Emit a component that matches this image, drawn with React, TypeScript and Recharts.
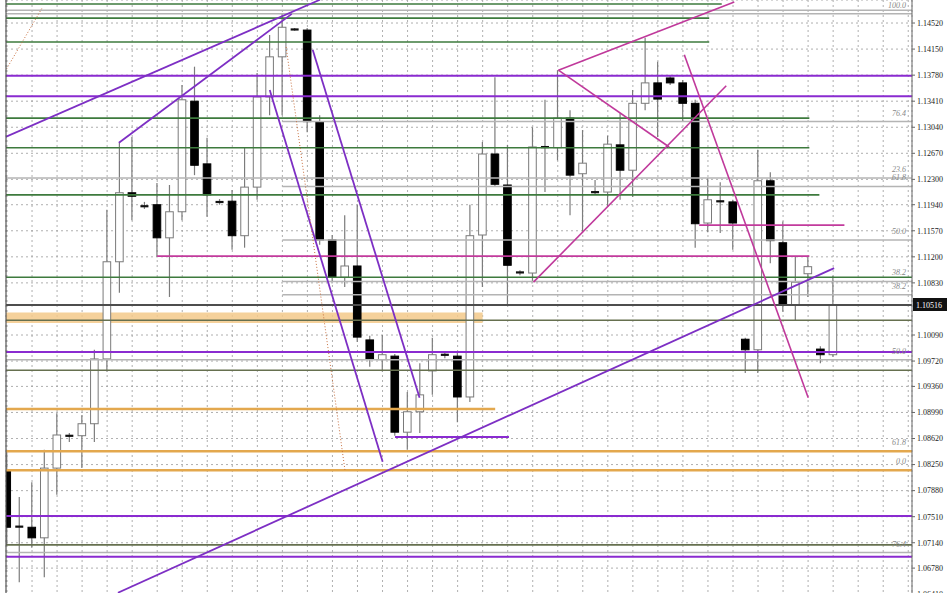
import React from 'react';
import { ComposedChart, Bar, XAxis, YAxis, CartesianGrid, ReferenceLine, ReferenceArea } from 'recharts';

// candles, oldest first
const opens = [1.0817, 1.0736, 1.0736, 1.0721, 1.0820, 1.0864, 1.0866, 1.0883, 1.0975, 1.1113, 1.1211, 1.1192, 1.1194, 1.1147, 1.1184, 1.1341, 1.1252, 1.1198, 1.1199, 1.1150, 1.1219, 1.1347, 1.1404, 1.1443, 1.1442, 1.1312, 1.1144, 1.1091, 1.1107, 1.1002, 1.0974, 1.0979, 1.0871, 1.0900, 1.0958, 1.0981, 1.0979, 1.0921, 1.1151, 1.1266, 1.1222, 1.1098, 1.1097, 1.1276, 1.1275, 1.1317, 1.1238, 1.1212, 1.1212, 1.1279, 1.1243, 1.1338, 1.1367, 1.1374, 1.1367, 1.1338, 1.1168, 1.1199, 1.1198, 1.1003, 1.0988, 1.1228, 1.1140, 1.1052, 1.1096, 1.0989, 1.0981];
const highs = [1.0846, 1.0779, 1.0800, 1.0846, 1.0898, 1.0870, 1.0895, 1.0988, 1.1187, 1.1283, 1.1290, 1.1198, 1.1225, 1.1222, 1.1364, 1.1390, 1.1289, 1.1202, 1.1215, 1.1276, 1.1381, 1.1435, 1.1466, 1.1445, 1.1445, 1.1321, 1.1151, 1.1179, 1.1194, 1.1008, 1.1009, 1.0982, 1.0928, 1.0969, 1.1005, 1.0985, 1.0985, 1.1194, 1.1283, 1.1375, 1.1279, 1.1101, 1.1304, 1.1343, 1.1385, 1.1328, 1.1300, 1.1229, 1.1292, 1.1324, 1.1357, 1.1431, 1.1397, 1.1377, 1.1371, 1.1343, 1.1232, 1.1226, 1.1201, 1.1005, 1.1272, 1.1240, 1.1170, 1.1120, 1.1120, 1.0993, 1.1093];
const lows = [1.0711, 1.0658, 1.0707, 1.0665, 1.0782, 1.0857, 1.0820, 1.0857, 1.0957, 1.1069, 1.1172, 1.1188, 1.1120, 1.1063, 1.1172, 1.1236, 1.1177, 1.1194, 1.1130, 1.1133, 1.1201, 1.1321, 1.1321, 1.1441, 1.1297, 1.1137, 1.1084, 1.1077, 1.0999, 1.0964, 1.0957, 1.0866, 1.0846, 1.0870, 1.0924, 1.0976, 1.0885, 1.0914, 1.1077, 1.1219, 1.1052, 1.1094, 1.1084, 1.1212, 1.1257, 1.1179, 1.1154, 1.1208, 1.1191, 1.1201, 1.1205, 1.1328, 1.1290, 1.1364, 1.1312, 1.1133, 1.1155, 1.1154, 1.1130, 1.0955, 1.0955, 1.1111, 1.1042, 1.1030, 1.1063, 1.0969, 1.0978];
const closes = [1.0736, 1.0737, 1.0721, 1.0820, 1.0867, 1.0866, 1.0883, 1.0975, 1.1113, 1.1211, 1.1206, 1.1192, 1.1147, 1.1184, 1.1343, 1.1250, 1.1208, 1.1198, 1.1150, 1.1219, 1.1347, 1.1404, 1.1446, 1.1442, 1.1312, 1.1144, 1.1091, 1.1107, 1.1006, 1.0975, 1.0981, 1.0871, 1.0900, 1.0924, 1.0981, 1.0980, 1.0921, 1.1150, 1.1266, 1.1223, 1.1108, 1.1097, 1.1276, 1.1275, 1.1317, 1.1236, 1.1253, 1.1211, 1.1280, 1.1243, 1.1338, 1.1367, 1.1344, 1.1367, 1.1338, 1.1167, 1.1201, 1.1198, 1.1168, 1.0988, 1.1228, 1.1143, 1.1052, 1.1084, 1.1106, 1.0981, 1.10516];

const priceTicks = [1.1452, 1.1415, 1.1378, 1.1341, 1.1304, 1.1267, 1.123, 1.1194, 1.1157, 1.112, 1.1083, 1.1009, 1.0972, 1.0936, 1.0899, 1.0862, 1.0825, 1.0788, 1.0751, 1.0714, 1.0678, 1.0641];
const lastPrice = 1.10516;

// horizontal levels: [price, fromBar, toBar, fibo label]; null = chart edge
const greenLevels = [[1.1479, null, 57.1], [1.1459, null, 56.1], [1.1425, null, 56.1], [1.1317, null, 64.1], [1.1275, null, 64.1], [1.1208, null, 64.9], [1.1091, null, null]];
const oliveLevels = [[1.1030, null, null], [1.0959, null, null], [1.0711, null, null]];
const grayLevels = [[1.1470, null, null, ''], [1.1465, null, null, '100.0'], [1.1312, 22, null, '76.4'], [1.1232, null, null, '23.6'], [1.1220, 22, null, '61.8'], [1.1144, 22, null, '50.0'], [1.1085, 22, null, '38.2'], [1.1066, 22, null, '38.2'], [1.0974, null, null, '50.0'], [1.0700, null, null, '76.4']];
const purpleLevels = [[1.1377, null, null], [1.1348, null, null], [1.0985, null, null], [1.0864, 31, 40.1], [1.0752, null, null], [1.0694, null, null]];
const magentaLevels = [[1.1165, 55.3, 66.9], [1.1121, 12, 64.1]];
const orangeLevels = [[1.0904, null, 39, ''], [1.0844, null, null, '61.8'], [1.0817, null, null, '0.0']];
const orangeZone = [1.1041, 1.1026, 38];

// trend lines: [[bar, price], [bar, price]]
const purpleTrends = [
  [[-0.16, 1.1290], [25.0, 1.1485]],
  [[8.94, 1.1282], [22.75, 1.1465]],
  [[20.99, 1.1357], [30.01, 1.0829]],
  [[24.42, 1.1414], [32.96, 1.0920]],
  [[8.86, 1.0643], [66.08, 1.1104]],
];
const magentaTrends = [
  [[44.05, 1.1385], [58.1, 1.1482]],
  [[44.05, 1.1385], [52.9, 1.1276]],
  [[42.06, 1.1084], [57.46, 1.1363]],
  [[54.11, 1.1407], [64.01, 1.0920]],
];
const dottedTrends = [
  [[-0.16, 1.1383], [2.79, 1.1473]],
  [[22.3, 1.1418], [27.0, 1.0817]],
];

const X_MIN = -0.08;
const X_MAX = 72.3;
const Y_MAX = 1.14847;
const Y_MIN = 1.06256;
const gridTicks = Array.from({ length: 37 }, (_, k) => k * 2);

const data = opens.map((o, i) => ({ i, o, h: highs[i], l: lows[i], c: closes[i], range: [lows[i], highs[i]] }));

const Candle = (props: any) => {
  const { x, y, width, height, payload } = props;
  const { o, h, l, c } = payload;
  const cx = x + width / 2;
  const k = height / (h - l);
  const py = (v: number) => y + (h - v) * k;
  const top = py(Math.max(o, c));
  const bot = py(Math.min(o, c));
  const up = c >= o;
  const doji = bot - top < 2;
  return (
    <g>
      <line x1={cx} x2={cx} y1={y} y2={y + height} stroke="#7c7c7c" strokeWidth={1.2} />
      {doji ? (
        <rect x={cx - 4} y={top - 1} width={8} height={2.2} fill="#111" />
      ) : (
        <rect x={cx - 3.8} y={top} width={7.6} height={bot - top} fill={up ? '#fff' : '#000'} stroke={up ? '#7a7a7a' : '#000'} strokeWidth={1} />
      )}
    </g>
  );
};

const PriceTag = (props: any) => {
  const { viewBox } = props;
  const x = viewBox.x + viewBox.width + 1;
  const y = viewBox.y;
  return (
    <g>
      <rect x={x} y={y - 7} width={34} height={13} fill="#111" />
      <text x={x + 3} y={y + 3} fill="#fff" fontSize={8} fontFamily="Liberation Serif">{lastPrice.toFixed(5)}</text>
    </g>
  );
};

const fiboLabel = (value: string) =>
  value ? { value, position: 'insideBottomRight' as const, fill: '#888', fontSize: 8, fontFamily: 'Liberation Serif', fontStyle: 'italic', offset: 6 } : undefined;

const seg = (p: number, from: number | null, to: number | null) => [
  { x: from ?? X_MIN, y: p },
  { x: to ?? X_MAX, y: p },
];

const App: React.FC = () => {
  return (
    <div style={{ position: 'absolute', left: 0, top: 0, width: 948, height: 593, overflow: 'hidden', background: '#fff' }}>
      <ComposedChart width={948} height={605} data={data} margin={{ top: 0, right: 0, bottom: 0, left: 6 }}>
        <CartesianGrid stroke="#9a9a9a" strokeDasharray="2 3" strokeWidth={0.8} />
        <XAxis type="number" dataKey="i" domain={[X_MIN, X_MAX]} ticks={gridTicks} allowDataOverflow hide />
        <YAxis
          orientation="right"
          width={36}
          domain={[Y_MIN, Y_MAX]}
          ticks={priceTicks}
          allowDataOverflow
          tickFormatter={(v: number) => v.toFixed(5)}
          tick={{ fontSize: 8, fill: '#222', fontFamily: 'Liberation Serif' }}
          tickSize={3}
          stroke="#666"
        />

        <ReferenceArea x1={X_MIN} x2={orangeZone[2]} y1={orangeZone[1]} y2={orangeZone[0]} fill="#f3c98a" fillOpacity={0.85} stroke="none" ifOverflow="hidden" />

        {grayLevels.map(([p, f, t, lab], k) => (
          <ReferenceLine key={`g${k}`} segment={seg(p as number, f as any, t as any)} stroke="#b4b4b4" strokeWidth={1.5} ifOverflow="hidden" label={fiboLabel(lab as string)} />
        ))}
        {greenLevels.map(([p, f, t], k) => (
          <ReferenceLine key={`gr${k}`} segment={seg(p as number, f as any, t as any)} stroke="#3d7a3d" strokeWidth={1.6} ifOverflow="hidden" />
        ))}
        {oliveLevels.map(([p, f, t], k) => (
          <ReferenceLine key={`ol${k}`} segment={seg(p as number, f as any, t as any)} stroke="#66704f" strokeWidth={1.6} ifOverflow="hidden" />
        ))}
        {orangeLevels.map(([p, f, t, lab], k) => (
          <ReferenceLine key={`or${k}`} segment={seg(p as number, f as any, t as any)} stroke="#e3a84e" strokeWidth={2.4} ifOverflow="hidden" label={fiboLabel(lab as string)} />
        ))}
        <ReferenceLine y={lastPrice} stroke="#4d4d4d" strokeWidth={2} ifOverflow="hidden" label={<PriceTag />} />
        {purpleLevels.map(([p, f, t], k) => (
          <ReferenceLine key={`pu${k}`} segment={seg(p as number, f as any, t as any)} stroke="#8a2bd0" strokeWidth={2} ifOverflow="hidden" />
        ))}
        {magentaLevels.map(([p, f, t], k) => (
          <ReferenceLine key={`mg${k}`} segment={seg(p as number, f as any, t as any)} stroke="#c23a9c" strokeWidth={1.8} ifOverflow="hidden" />
        ))}

        <Bar dataKey="range" barSize={8} shape={<Candle />} isAnimationActive={false} />

        {purpleTrends.map(([a, b], k) => (
          <ReferenceLine key={`pt${k}`} segment={[{ x: a[0], y: a[1] }, { x: b[0], y: b[1] }]} stroke="#7d2fc4" strokeWidth={1.8} ifOverflow="hidden" />
        ))}
        {magentaTrends.map(([a, b], k) => (
          <ReferenceLine key={`mt${k}`} segment={[{ x: a[0], y: a[1] }, { x: b[0], y: b[1] }]} stroke="#c0399b" strokeWidth={1.6} ifOverflow="hidden" />
        ))}
        {dottedTrends.map(([a, b], k) => (
          <ReferenceLine key={`dt${k}`} segment={[{ x: a[0], y: a[1] }, { x: b[0], y: b[1] }]} stroke="#c8703f" strokeWidth={1} strokeDasharray="1 2" ifOverflow="hidden" />
        ))}
        <ReferenceLine x={X_MIN} stroke="#555" strokeWidth={1.2} ifOverflow="visible" />
      </ComposedChart>
    </div>
  );
};

export default App;
